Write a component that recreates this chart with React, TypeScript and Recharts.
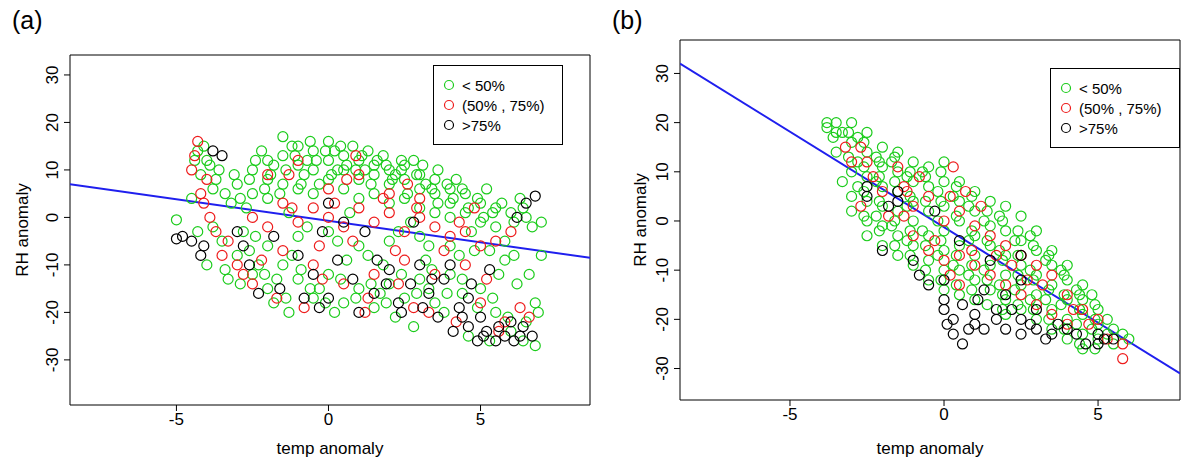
import React from 'react';
import { ScatterChart, Scatter, XAxis, YAxis, ReferenceLine, ReferenceArea, Label } from 'recharts';

type G = [number, number[]][];
const flat = (g: G) => g.flatMap(([x, ys]) => ys.map((y) => ({ x, y })));
const pts = (a: [number, number][]) => a.map(([x, y]) => ({ x, y }));

const xTicks = [-5, 0, 5];
const yTicks = [-30, -20, -10, 0, 10, 20, 30];
const legendLabels = ['< 50%', '(50% , 75%)', '>75%'];
const colors = ['#1ccc1c', '#ee1c1c', '#000000'];

const aGreenPts: [number, number][] = [
[-2,12],[-1.5,17],[-1,15],[-0.5,14],[0,16],[0.5,13],[1,12],[1.5,11],[2,10],[2.5,11],[3,9],[3.5,8],[4,6],[4.5,5],[5,3],[5.5,2],[6,1],[6.5,0],[7,-1],
[-2.5,10],[-2,8],[-1.5,13],[-1,11],[-0.5,10],[0,12],[0.5,10],[1,8],[1.5,9],[2,7],[2.5,8],[3,6],[3.5,5],[4,3],
[-3,7],[-2.5,5],[-2,4],[-1.5,7],[-1,6],[-0.5,5],[0,8],[0.5,6],[1,4],[1.5,5],[2,3],[2.5,4],[3,2],[3.5,1],[4,0],[4.5,1],[5,-1],[5.5,-2],
[-4.3,14],[-4,12],[-4.2,9],[-3.8,6],[-4.5,4],[-3.6,10],[-3.2,3],[-5,-0.5],
[-1.2,15],[0.2,14],[0.8,15],[1.8,13],[2.8,12],[-0.8,9],[0.3,10],[1.2,10],[2.2,9],[3.2,7],[-1.8,11],[-0.3,7],
[-3,-8],[-2.5,-12],[-2,-15],[-1.5,-10],[-1,-13],[-0.5,-17],[0,-12],[0.5,-18],[1,-15],[1.5,-19],[2,-14],[2.5,-17],[3,-13],[3.5,-18],[4,-12],
[-3.5,-5],[-2.8,-3],[-2,-6],[-1,-4],[0,-3],[1,-6],[2,-5],[3,-4],[4,-6],[-1.2,-8],[0.6,-9],[1.8,-10],[3.2,-9],
[5,-15],[5.5,-20],[6,-24],[6.5,-22],[6.8,-18],[5.3,-26],[4.6,-25],[6.2,-14],[5.8,-9],[4.8,-7],[6.8,-27],
[-4,-10],[-4.3,-3],[-3.3,-13],[-1.8,-18],[0.2,-20],[2.2,-21],[3.8,-20],[4.4,-16],
[-2.2,14],[-0.7,12],[1.3,14],[2.4,12],[3.6,10],[4.2,8],[5.2,6],[6.3,4],[-2.7,2],[-1.3,1],[0.7,1],[2.7,-1],[4.7,-3],[5.8,-5],
[-2.3,-10],[-0.3,-15],[1.7,-16],[3.3,-15],[-1.3,-20],[2.8,-23],[6.6,-12],[7,-8],
[-4.4,12],[-4.1,15],[-3.9,11],[-3.7,8],[-3.4,5],[-3.1,9],[-2.9,4],[-2.6,8],[-2.4,12],[-2.1,6],[-1.9,9],[-1.6,5],[-1.4,10],[-1.1,13],[-0.9,7],[-0.6,16],[-0.4,12],[-0.1,14],[0.1,9],[0.4,15],[0.6,11],[0.9,10],[1.1,13],[1.4,7],[1.6,12],[1.9,11],[2.1,8],[2.4,10],[2.6,5],[2.9,9],[3.1,11],[3.4,6],[3.6,3],[3.9,7],[4.1,4],[4.4,6],[4.6,2],[4.9,4],[5.1,0],[5.4,1],[5.7,3],[6.1,-1],[6.4,2],[6.7,-2],
[-3.4,-11],[-2.9,-14],[-2.6,-7],[-2.1,-12],[-1.7,-13],[-1.4,-17],[-0.9,-11],[-0.6,-15],[-0.1,-18],[0.4,-13],[0.9,-17],[1.4,-14],[1.9,-18],[2.4,-12],[2.9,-16],[3.4,-11],[3.9,-16],[4.4,-13],[4.9,-19],[5.4,-17],[5.9,-21],[6.4,-26],[6.9,-20],[5.6,-12],[6.1,-8],[-3.8,-2],[-2.4,-4],[-0.7,-2],[0.3,-5],[1.3,-8],[2.3,-3],[3.3,-6],[4.3,-8],[5.3,-7]
];
const aRedPts: [number, number][] = [
[-4.3,16],[-4.5,10],[-4.2,5],[-3.9,0],[-3.5,-8],[-3,-10],[-2.5,0],[-2,-2],[-1.5,3],[-1,-1],[-0.5,2],[0,0],[0.5,-2],[1,2],[1.5,-1],[2,1],[2.5,-3],[3,0],[3.5,-2],[4,-4],[4.5,-3],[5,-6],[5.5,-5],
[-2,9],[-1,12],[0,6],[1,9],[2,5],[3,4],[-1.5,-7],[-0.5,-10],[0.5,-14],[1.5,-12],[2.5,-9],[3.5,-12],[4.5,-10],[-2.5,-14],[-0.8,-19],[1.2,-20],[2.8,-19],[4.2,-22],[5,-18],[5.8,-22],[6.3,-19],[-0.3,-6],[0.8,-5],[2.2,-7],[-3.3,-5],[-2.2,-9],[0.9,13],[2.6,7],[-4,8],[4.8,2],[6,-3],
[-4.4,13],[-4.1,3],[-3.7,-3],[-2.8,-12],[-1.7,-17],[-1.2,2],[-0.2,-13],[0.2,3],[1.3,-17],[1.8,4],[2.3,-14],[3.3,-20],[3.8,-7],[4.3,-1],[5.2,-13],[5.6,-24],[6.6,-21],[-1.3,9],[0.6,8],[2.9,2]
];
const aBlackPts: [number, number][] = [
[-5,-4.5],[-4.5,-5],[-4.2,-8],[-3.8,14],[-3.5,13],[-3,-3],[-2.6,-10],[-2.3,-16],[-1.6,-15],[-1,-8],[-0.5,-12],[0,-17],[0.3,-9],[0.8,-13],[1,-20],[1.5,-16],[2,-11],[2.3,-18],[2.7,-14],[3,-10],[3.3,-16],[3.6,-21],[4,-10],[4.3,-19],[4.6,-23],[4.9,-26],[5.2,-24],[5.5,-26],[5.8,-25],[6.1,-26],[6.4,-23],[6.7,-25],[5.0,-21],[4.7,-14],[6.5,3],[6.8,4.5],[6.2,0],[0.5,-1],[-0.2,-3],[1.2,-3],[-1.8,-4],[2.8,-1],[-2.8,-6],[0,3],[5.3,-11],[3.8,-13],
[-4.8,-4],[-4.1,-6],[-0.8,-17],[-0.3,-19],[1.9,-14],[2.4,-20],[3.1,-19],[3.4,-13],[4.1,-24],[4.4,-21],[5.1,-25],[5.6,-23],[6.0,-22],[6.3,-25],[4.6,-17],[1.6,-9]
];

const bGreen: G = [
[-3.8,[20,19]],[-3.5,[18,20,14]],[-3,[20,16,10,5,2]],[-2.5,[18,14,9,4,0,-3]],[-2,[15,11,7,3,-1,-5]],[-1.5,[14,10,6,2,-3,-7]],
[-1,[12,8,4,0,-5,-9]],[-0.5,[11,7,2,-3,-8,-12]],[0,[12,8,3,-2,-6,-10,-14]],[0.5,[8,4,0,-5,-10,-15]],[1,[6,2,-3,-7,-12,-16]],
[1.5,[4,-1,-5,-9,-14]],[2,[3,-2,-7,-11,-16,-19]],[2.5,[1,-4,-9,-13,-18]],[3,[-2,-6,-11,-15,-20]],[3.5,[-6,-9,-13,-18,-22]],
[4,[-9,-12,-16,-20,-24]],[4.5,[-13,-16,-19,-23,-26]],[5,[-18,-21,-24]],[5.5,[-22,-25]],[6,[-24]],
[-2.8,[17,12,7]],[-2.2,[13,8,1]],[-1.2,[9,3,-4]],[-0.2,[6,0,-7]],[0.8,[3,-4,-11]],[1.8,[1,-6,-13]],[2.8,[-3,-10,-16]],[3.8,[-10,-17]],[4.8,[-15,-22]],
[-3.3,[18,8]],[-1.7,[12,-1]],[-0.7,[10,-2]],[0.3,[5,-9]],[1.3,[0,-10]],[2.3,[-4,-14]],[3.3,[-8,-16]],[4.3,[-14,-21]],
[-3.6,[17]],[-3.1,[13,18]],[-2.6,[16,11,6,1]],[-2.1,[12,9,4,-2]],[-1.6,[13,8,0,-5]],[-1.1,[10,5,-2,-7]],[-0.6,[9,4,-5,-10]],[-0.1,[10,4,-4,-12]],
[0.4,[7,1,-7,-13]],[0.9,[5,-2,-9,-14]],[1.4,[2,-4,-12,-17]],[1.9,[0,-8,-15,-18]],[2.4,[-2,-7,-11,-17]],[2.9,[-5,-12,-18]],[3.4,[-7,-14,-20]],
[3.9,[-11,-15,-22]],[4.4,[-15,-18,-25]],[4.9,[-17,-20,-26]],[5.3,[-20,-23]],[5.8,[-23]]
];
const bRed: G = [
[-3.2,[15]],[-2.5,[12]],[-2,[6]],[-1.5,[11]],[-1,[3,-3]],[-0.5,[5,-6]],[0,[0,-8]],[0.5,[2,-7,-13]],[1,[-1,-9]],[1.5,[-3,-11]],
[2,[-5,-13]],[2.5,[-7,-15]],[3,[-9,-17]],[3.5,[-11,-19]],[4,[-15,-21]],[4.5,[-18]],[5,[-20]],[5.8,[-25,-28]],[-1.8,[1]],[-0.8,[9]],[0.3,[11]],
[-2.7,[15,3]],[-1.2,[6]],[0.7,[6]],[1.7,[-7]],[2.7,[-12]],
[-3,[12]],[-2.3,[9]],[-1.3,[1,7]],[-0.3,[-4]],[0.2,[5,-11]],[0.9,[-6]],[1.2,[3]],[2.2,[-9]],[3.2,[-13]],[4.2,[-18]],[4.7,[-21]],[5.3,[-24]]
];
const bBlack: G = [
[-2.5,[5,7]],[-1.5,[6,4]],[-1,[-8]],[-0.5,[-13]],[0,[-16,-12,-18]],[0.3,[-20,-23]],[0.6,[-17,-25]],[1,[-19,-21]],[1.3,[-14,-22]],
[1.7,[-18,-20]],[2,[-15,-22]],[2.5,[-12,-20,-23]],[3,[-18,-22]],[3.3,[-24]],[3.7,[-21]],[4.3,[-23]],[5,[-23,-25]],[5.5,[-24]],
[1.5,[-8]],[0.5,[-4]],[2.5,[-7]],[-0.3,[2]],[-2,[-6]],
[-1.8,[3]],[-0.8,[-11]],[0.1,[-21]],[0.8,[-22]],[1.1,[-16]],[2.2,[-18]],[2.8,[-21]],[3.5,[-23]],[4,[-22]],[4.6,[-25]],[5.2,[-24]]
];

const aLine = [{ x: -8.5, y: 7 }, { x: 8.6, y: -8.5 }];
const bLine = [{ x: -8.57, y: 32 }, { x: 7.66, y: -31 }];

const font = 'Liberation Sans, Arial, sans-serif';

const YTick = (props: any) => {
  const { x, y, payload } = props;
  return (
    <text x={x - 4} y={y} transform={`rotate(-90 ${x - 4} ${y})`} textAnchor="middle" fontSize={17} fill="#000" fontFamily={font}>
      {payload.value}
    </text>
  );
};

const Circle = (color: string) => (props: any) => (
  <circle cx={props.cx} cy={props.cy} r={5} fill="none" stroke={color} strokeWidth={1.2} />
);

function Panel(p: {
  width: number; margin: any; yw: number; xd: [number, number]; yd: [number, number];
  g: any[]; r: any[]; k: any[]; line: any[]; legend: { left: number; top: number }; tag: string; left: number; ylOff: number;
}) {
  return (
    <div style={{ position: 'absolute', left: p.left, top: 0, width: p.width, height: 464 }}>
      <ScatterChart width={p.width} height={464} margin={p.margin}>
        <XAxis type="number" dataKey="x" domain={p.xd} ticks={xTicks} allowDataOverflow axisLine={false}
          tick={{ fontSize: 17, fill: '#000', fontFamily: font }} tickLine={{ stroke: '#000' }} tickSize={6} height={p.margin.xh}>
          <Label value="temp anomaly" position="insideBottom" offset={10} style={{ fontSize: 17, fill: '#000', fontFamily: font }} />
        </XAxis>
        <YAxis type="number" dataKey="y" domain={p.yd} ticks={yTicks} allowDataOverflow axisLine={false}
          tick={<YTick />} tickLine={{ stroke: '#000' }} tickSize={6} width={p.yw}>
          <Label value="RH anomaly" angle={-90} position="insideLeft" offset={p.ylOff} style={{ fontSize: 17, fill: '#000', fontFamily: font, textAnchor: 'middle' }} />
        </YAxis>
        <Scatter data={p.g} shape={Circle(colors[0])} isAnimationActive={false} />
        <Scatter data={p.r} shape={Circle(colors[1])} isAnimationActive={false} />
        <Scatter data={p.k} shape={Circle(colors[2])} isAnimationActive={false} />
        <ReferenceLine segment={p.line} stroke="#1f1fee" strokeWidth={2} ifOverflow="hidden" />
        <ReferenceArea x1={p.xd[0]} x2={p.xd[1]} y1={p.yd[0]} y2={p.yd[1]} fill="none" stroke="#000" strokeWidth={1} ifOverflow="visible" />
      </ScatterChart>
      <div style={{ position: 'absolute', left: 12, top: 6, fontSize: 25, fontFamily: font }}>{p.tag}</div>
      <div style={{ position: 'absolute', left: p.legend.left, top: p.legend.top, width: 130, height: 80, border: '1px solid #000', background: '#fff', fontFamily: font, fontSize: 15, boxSizing: 'border-box', padding: '9px 0 0 8px' }}>
        {legendLabels.map((l, i) => (
          <div key={l} style={{ display: 'flex', alignItems: 'center', height: 20 }}>
            <svg width={14} height={14}><circle cx={7} cy={7} r={4.5} fill="none" stroke={colors[i]} strokeWidth={1.2} /></svg>
            <span style={{ marginLeft: 6 }}>{l}</span>
          </div>
        ))}
      </div>
    </div>
  );
}

export default function App() {
  return (
    <div style={{ position: 'absolute', left: 0, top: 0, width: 1194, height: 464, background: '#fff' }}>
      <Panel left={0} width={600} tag="(a)" margin={{ top: 55, right: 10, bottom: 0, left: 0, xh: 59 }} yw={70} ylOff={22}
        xd={[-8.5, 8.6]} yd={[-39.5, 34.2]} g={pts(aGreenPts)} r={pts(aRedPts)}
        k={pts(aBlackPts)} line={aLine} legend={{ left: 433, top: 65 }} />
      <Panel left={600} width={594} tag="(b)" margin={{ top: 40, right: 14, bottom: 0, left: 0, xh: 64 }} yw={80} ylOff={40}
        xd={[-8.57, 7.66]} yd={[-36.4, 36.8]} g={flat(bGreen)} r={flat(bRed)} k={flat(bBlack)} line={bLine} legend={{ left: 450, top: 68 }} />
    </div>
  );
}
